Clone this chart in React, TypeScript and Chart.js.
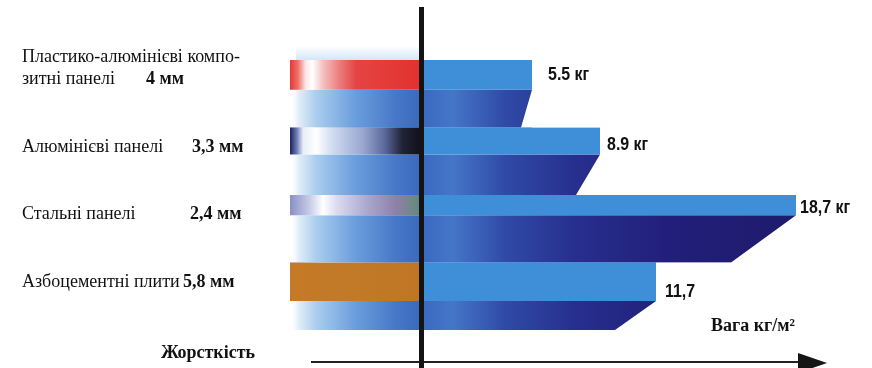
import React, { useEffect, useRef } from 'react';
import { Chart, registerables } from 'chart.js';

Chart.register(...registerables);

// ---------- data ----------
const materials = [
  'Пластико-алюмінієві композитні панелі',
  'Алюмінієві панелі',
  'Стальні панелі',
  'Азбоцементні плити',
];
const materialLines = [
  ['Пластико-алюмінієві компо-', 'зитні панелі'],
  ['Алюмінієві панелі'],
  ['Стальні панелі'],
  ['Азбоцементні плити'],
];
const thicknessLabels = ['4 мм', '3,3 мм', '2,4 мм', '5,8 мм'];
const weights = [5.5, 8.9, 18.7, 11.7];
const weightLabels = ['5.5 кг', '8.9 кг', '18,7 кг', '11,7'];
const stiffness = [-6.6, -6.6, -6.6, -6.6];
const weightTitle = 'Вага кг/м²';
const stiffnessTitle = 'Жорсткість';

// ---------- styles ----------
const topShare = [0.44, 0.4, 0.3, 0.57];
const slantPx = [11, 24, 65, 41];
const thicknessX = [146, 192, 190, 183];
const valueDx = [16, 7, 4, 9];
const valueDy = [5, 9, 8, 15];
const stripStops: [number, string][][] = [
  [[0, '#e23a36'], [0.06, '#ee7068'], [0.12, '#fde8e8'], [0.17, '#ffffff'], [0.25, '#f4c0c0'], [0.38, '#ec7a7a'], [0.5, '#e44444'], [1, '#e2312e']],
  [[0, '#1c2260'], [0.05, '#6a78b0'], [0.1, '#e8eef8'], [0.2, '#ffffff'], [0.32, '#d0dcf0'], [0.55, '#98a8d0'], [0.72, '#5a6898'], [0.85, '#202438'], [1, '#0e0e18']],
  [[0, '#8890c4'], [0.15, '#c8cce8'], [0.25, '#ffffff'], [0.35, '#dcdcf0'], [0.6, '#a8a4cc'], [0.8, '#9080a8'], [0.95, '#6a8a80'], [1, '#5a7a9a']],
  [[0, '#c47a26'], [0.5, '#c27a28'], [1, '#bf7524']],
];
const SERIF = '"Liberation Serif", "Times New Roman", serif';
const SANS = '"Liberation Sans", Arial, sans-serif';

function hGrad(chart: any, v0: number, v1: number, stops: [number, string][], fallback: string) {
  const sx = chart.scales && chart.scales.x;
  if (!chart.chartArea || !sx) return fallback;
  const g = chart.ctx.createLinearGradient(sx.getPixelForValue(v0), 0, sx.getPixelForValue(v1), 0);
  stops.forEach(([o, c]) => g.addColorStop(o, c));
  return g;
}

const shapePlugin = {
  id: 'faceShape',
  beforeDatasetsDraw(chart: any) {
    // faint glow above the first row on the stiffness side
    const ctx = chart.ctx;
    const sx = chart.scales.x;
    const a = sx.getPixelForValue(-6.6);
    const b = sx.getPixelForValue(0);
    const top = chart.chartArea.top;
    const g = ctx.createLinearGradient(0, top - 14, 0, top);
    g.addColorStop(0, 'rgba(200,225,245,0)');
    g.addColorStop(1, 'rgba(200,225,245,0.8)');
    ctx.save();
    ctx.fillStyle = g;
    ctx.fillRect(a + 6, top - 14, b - a - 6, 14);
    ctx.restore();
  },
  beforeDatasetDraw(chart: any, args: any) {
    const ds: any = chart.data.datasets[args.index];
    const ctx = chart.ctx;
    ctx.save();
    ctx.beginPath();
    args.meta.data.forEach((el: any, i: number) => {
      const p = el.getProps(['x', 'y', 'base', 'height'], true);
      const top = p.y - p.height / 2;
      const bottom = p.y + p.height / 2;
      const split = top + p.height * topShare[i];
      if (ds.face === 'top') {
        ctx.rect(Math.min(p.base, p.x), top, Math.abs(p.x - p.base), split - top);
      } else {
        const dir = Math.sign(p.x - p.base);
        const sl = ds.slant ? slantPx[i] : 0;
        ctx.moveTo(p.base, split);
        ctx.lineTo(p.x, split);
        ctx.lineTo(p.x - dir * sl, bottom);
        ctx.lineTo(p.base, bottom);
        ctx.closePath();
      }
    });
    ctx.clip();
  },
  afterDatasetDraw(chart: any) {
    chart.ctx.restore();
  },
};

const decorPlugin = {
  id: 'decor',
  afterDraw(chart: any) {
    const ctx = chart.ctx;
    const sx = chart.scales.x;
    const x0 = sx.getPixelForValue(0);
    const meta = chart.getDatasetMeta(0);
    ctx.save();
    // arrow
    ctx.strokeStyle = '#222';
    ctx.lineWidth = 2;
    ctx.beginPath();
    ctx.moveTo(sx.getPixelForValue(-5.55), 362);
    ctx.lineTo(sx.getPixelForValue(18.9), 362);
    ctx.stroke();
    ctx.fillStyle = '#151515';
    ctx.beginPath();
    ctx.moveTo(sx.getPixelForValue(18.8), 353);
    ctx.lineTo(sx.getPixelForValue(20.25), 363);
    ctx.lineTo(sx.getPixelForValue(18.8), 373);
    ctx.closePath();
    ctx.fill();
    // vertical axis
    ctx.fillStyle = '#141414';
    ctx.fillRect(x0 - 3, 7, 5, 361);

    // value labels
    ctx.fillStyle = '#111';
    ctx.textBaseline = 'alphabetic';
    ctx.textAlign = 'left';
    ctx.font = 'bold 19px ' + SANS;
    meta.data.forEach((el: any, i: number) => {
      const p = el.getProps(['x', 'y', 'height'], true);
      const top = p.y - p.height / 2;
      const lc = top + (p.height * topShare[i]) / 2;
      ctx.save();
      ctx.translate(p.x + valueDx[i], lc + valueDy[i]);
      ctx.scale(0.84, 1);
      ctx.fillText(weightLabels[i], 0, 0);
      ctx.restore();
    });

    // category labels
    meta.data.forEach((el: any, i: number) => {
      const p = el.getProps(['y', 'height'], true);
      const top = p.y - p.height / 2;
      const lines = materialLines[i];
      const base = top + 24;
      ctx.font = '18px ' + SERIF;
      lines.forEach((ln, k) => {
        ctx.fillText(ln, 22, base - (lines.length - 1 - k) * 22);
      });
      ctx.font = 'bold 18px ' + SERIF;
      ctx.fillText(thicknessLabels[i], thicknessX[i], base);
    });

    ctx.font = 'bold 18px ' + SERIF;
    ctx.fillText(weightTitle, 711, 331);
    ctx.fillText(stiffnessTitle, 161, 358);
    ctx.restore();
  },
};

export default function App() {
  const ref = useRef<HTMLCanvasElement>(null);
  useEffect(() => {
    if (!ref.current) return;
    const common = { grouped: false, barPercentage: 1, categoryPercentage: 1, borderWidth: 0 };
    const chart = new Chart(ref.current, {
      type: 'bar',
      data: {
        labels: materials,
        datasets: [
          { ...common, label: 'Вага (лицьова грань)', data: weights, face: 'top', backgroundColor: '#3e8fd8' } as any,
          {
            ...common,
            label: 'Жорсткість (матеріал)',
            data: stiffness,
            face: 'top',
            backgroundColor: (c: any) => hGrad(c.chart, -6.6, 0, stripStops[c.dataIndex] || stripStops[0], '#c27a28'),
          } as any,
          {
            ...common,
            label: 'Вага (тінь)',
            data: weights,
            face: 'bottom',
            slant: true,
            backgroundColor: (c: any) =>
              hGrad(c.chart, 0, 19, [[0, '#3a69c0'], [0.08, '#4576c8'], [0.22, '#2f4aa6'], [0.4, '#272f8e'], [0.65, '#221f7a'], [1, '#1e1a6c']], '#25288a'),
          } as any,
          {
            ...common,
            label: 'Жорсткість (тінь)',
            data: stiffness,
            face: 'bottom',
            backgroundColor: (c: any) =>
              hGrad(c.chart, -6.6, 0, [[0, 'rgba(255,255,255,0)'], [0.06, '#e4eff9'], [0.2, '#a9cdee'], [0.5, '#6a9ddc'], [0.8, '#4778c8'], [1, '#3a68bd']], '#6a9ddc'),
          } as any,
        ],
      },
      options: {
        indexAxis: 'y',
        animation: false,
        responsive: true,
        maintainAspectRatio: false,
        layout: { padding: { left: 282, right: 30, top: 60, bottom: 38 } },
        scales: {
          x: { type: 'linear', min: -7, max: 21, display: false },
          y: { type: 'category', display: false, offset: true },
        },
        plugins: { legend: { display: false }, tooltip: { enabled: false } },
      },
      plugins: [shapePlugin, decorPlugin],
    });
    return () => chart.destroy();
  }, []);
  return (
    <div style={{ position: 'fixed', left: 0, top: 0, width: 872, height: 368, background: '#fff' }}>
      <canvas ref={ref} />
    </div>
  );
}
